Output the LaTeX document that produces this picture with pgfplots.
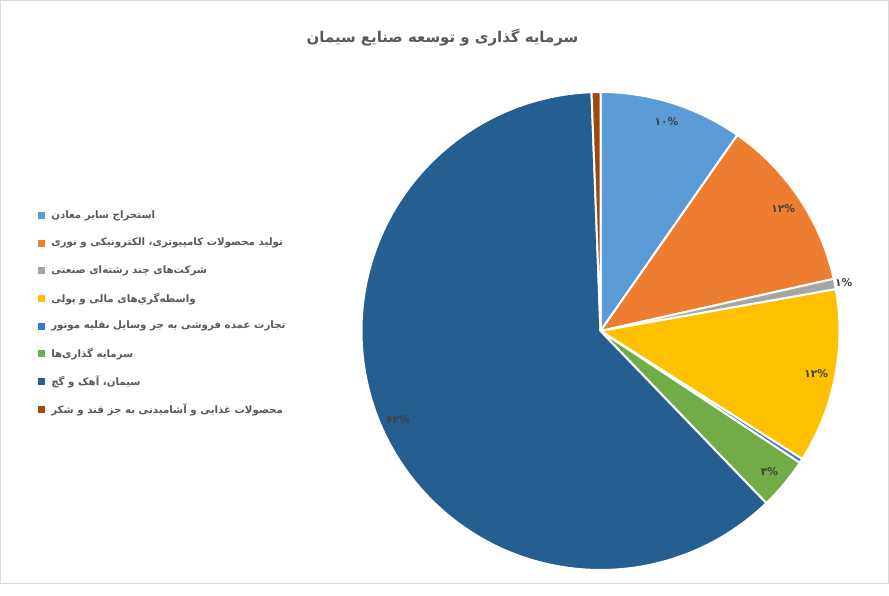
\documentclass[border=0pt]{standalone}
\usepackage{pgfplots}
\pgfplotsset{compat=1.18}
\usepackage{pgfplotstable}
\usepackage{fontspec}
\setmainfont{DejaVu Sans}
\newfontfamily\fa[Script=Arabic]{DejaVu Sans}
\TeXXeTstate=1
\definecolor{c1}{HTML}{5B9BD5}
\definecolor{c2}{HTML}{ED7D31}
\definecolor{c3}{HTML}{A5A5A5}
\definecolor{c4}{HTML}{FFC000}
\definecolor{c5}{HTML}{4472C4}
\definecolor{c6}{HTML}{70AD47}
\definecolor{c7}{HTML}{255E91}
\definecolor{c8}{HTML}{9E480E}
\definecolor{titlec}{HTML}{595959}
\definecolor{labc}{HTML}{404040}
\definecolor{borderc}{HTML}{D9D9D9}
\pgfplotstableread{
v c
9.7 c1
11.8 c2
0.7 c3
11.8 c4
0.3 c5
3.5 c6
61.6 c7
0.6 c8
}\piedata
\begin{document}
\begin{tikzpicture}
\begin{axis}[
  scale only axis, width=666.75pt, height=438pt,
  xmin=0, xmax=889, ymin=0, ymax=584,
  hide axis, clip=false]
\addplot[draw=none] coordinates {(0,0) (889,584)};
\def\cum{0}
\pgfplotsforeachungrouped \i in {0,...,7}{%
  \pgfplotstablegetelem{\i}{v}\of\piedata \let\val\pgfplotsretval
  \pgfplotstablegetelem{\i}{c}\of\piedata \let\col\pgfplotsretval
  \pgfmathsetmacro\sa{90-3.6*\cum}%
  \pgfmathsetmacro\cum{\cum+\val}%
  \pgfmathsetmacro\ea{90-3.6*\cum}%
  \pgfmathsetmacro\ma{(\sa+\ea)/2}%
  \edef\temp{\noexpand\filldraw[fill=\col,draw=white,line width=1.5pt,line join=round] (axis cs:600.5,253) -- ++(\sa:179.25pt) arc[start angle=\sa,end angle=\ea,radius=179.25pt] -- cycle;
   \noexpand\coordinate (m\i) at ([shift={(\ma:165pt)}]axis cs:600.5,253);
   \noexpand\coordinate (o\i) at ([shift={(\ma:186pt)}]axis cs:600.5,253);}%
  \temp
}
\tikzset{lab/.style={font=\fa\bfseries\fontsize{8}{10}\selectfont, text=labc}}
\node[lab] at (m0) {۱۰\%};
\node[lab] at (m1) {۱۲\%};
\node[lab] at (o2) {۱\%};
\node[lab] at (m3) {۱۲\%};
\node[lab] at (m5) {۳\%};
\node[lab] at ([yshift=-2pt]m6) {۶۲\%};
% title
\node[font=\fa\bfseries\fontsize{11.2}{14}\selectfont, text=titlec] at (axis cs:442.5,546) {\beginR سرمایه گذاری و توسعه صنایع سیمان\endR};
% legend
\tikzset{leg/.style={font=\fa\bfseries\fontsize{7.7}{10}\selectfont, text=titlec, anchor=west, inner sep=0pt}}
\foreach \k/\cc in {0/c1,1/c2,2/c3,3/c4,4/c5,5/c6,6/c7,7/c8}{
  \edef\temp{\noexpand\fill[\cc] (axis cs:37.5,{584-215.5-27.7*\k-3.5}) rectangle (axis cs:44.5,{584-215.5-27.7*\k+3.5});}
  \temp
}
\node[leg] at (axis cs:51,368.5) {\beginR استخراج سایر معادن\endR};
\node[leg] at (axis cs:51,340.8) {\beginR تولید محصولات کامپیوتری، الکترونیکی و نوری\endR};
\node[leg] at (axis cs:51,313.1) {\beginR شرکت‌های چند رشته‌ای صنعتی\endR};
\node[leg] at (axis cs:51,285.4) {\beginR واسطه‌گري‌های مالی و پولی\endR};
\node[leg] at (axis cs:51,257.7) {\beginR تجارت عمده فروشی به جز وسایل نقلیه موتور\endR};
\node[leg] at (axis cs:51,230.0) {\beginR سرمایه گذاری‌ها\endR};
\node[leg] at (axis cs:51,202.3) {\beginR سیمان، آهک و گچ\endR};
\node[leg] at (axis cs:51,174.6) {\beginR محصولات غذایی و آشامیدنی به جز قند و شکر\endR};
\draw[borderc, line width=0.75pt] (axis cs:0.5,0.5) rectangle (axis cs:888.5,583.5);
\end{axis}
\end{tikzpicture}
\end{document}
